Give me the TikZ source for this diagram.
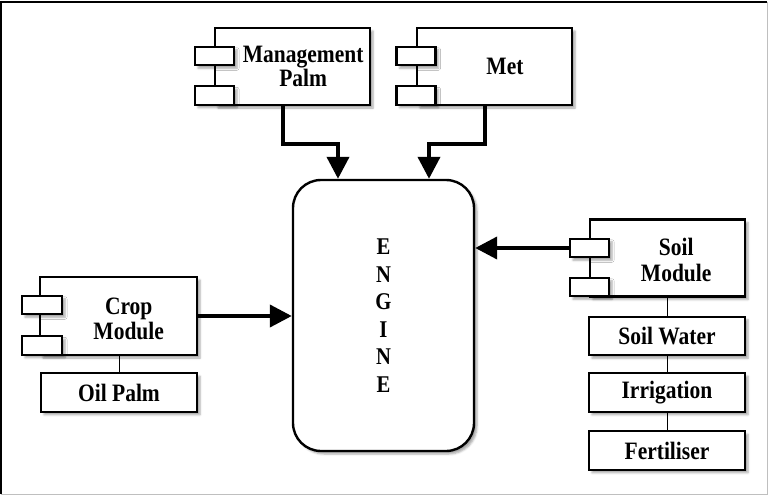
\documentclass[tikz,border=0pt]{standalone}
\usepackage{fontspec}
\setmainfont{Liberation Serif}[FakeStretch=0.86]
\usetikzlibrary{arrows.meta,calc,shadows.blur}

\begin{document}
\begin{tikzpicture}[x=1pt,y=-1pt,
  shade/.style={blur shadow={shadow xshift=3pt, shadow yshift=-3pt,
      shadow opacity=35, shadow blur radius=2pt}},
  box/.style={draw=black, line width=2.4pt, fill=white, inner sep=0pt, shade},
  comp/.style={box, minimum width=155pt, minimum height=77pt},
  port/.style={box, minimum width=39pt, minimum height=18.5pt},
  part/.style={box, minimum width=156pt, minimum height=38.5pt,
      font=\fontsize{25}{21}\selectfont\bfseries},
  lbl/.style={font=\fontsize{25}{#1}\selectfont\bfseries, align=center, inner sep=0pt},
  lbl/.default=21,
  flow/.style={line width=4pt, -{Triangle[width=22pt,length=22pt]}},
  tie/.style={line width=1pt}
]
\useasboundingbox (0,0) rectangle (768,495);

% page frame
\draw[line width=1.6pt] (1,494) -- (1,2) -- (767,2);
\draw[line width=1pt, black!25] (767,2) -- (767,494) -- (1,494);

% central engine
\node[box, rounded corners=28pt, minimum width=181pt, minimum height=271pt,
  font=\fontsize{24}{27.5}\selectfont\bfseries, align=center]
  (engine) at (383.5,315.5) {E\\N\\G\\I\\N\\E};

% Management Palm component
\node[comp] (mgmt) at (292.5,66.5) {};
\node[port] (mgmtP1) at (214.5,56) {};
\node[port] (mgmtP2) at (214.5,95.5) {};
\node[lbl=21] (mgmtT) at ($(mgmtP1.east |- mgmt.center)!0.5!(mgmt.east)$) {Management\\Palm};

% Met component
\node[comp] (met) at (494.5,66.5) {};
\node[port] (metP1) at (416,56) {};
\node[port] (metP2) at (416,95.5) {};
\node[lbl] (metT) at ($(metP1.east |- met.center)!0.5!(met.east)$) {Met};

% Crop Module component and its part
\node[comp, minimum width=157pt, minimum height=78pt] (crop) at (118.5,316) {};
\node[port, minimum width=40pt] (cropP1) at (42,305) {};
\node[port, minimum width=40pt] (cropP2) at (42,345.5) {};
\node[lbl=25] (cropT) at ($(cropP1.east |- crop.center)!0.5!(crop.east) + (-2,2.5)$) {Crop\\Module};
\node[part] (oil) at (119,392.5) {Oil Palm};
\draw[tie] (crop.south -| oil.north) -- (oil.north);

% Soil Module component and its parts
\node[comp] (soil) at (667.5,258) {};
\node[port] (soilP1) at (589.5,248) {};
\node[port] (soilP2) at (589.5,287) {};
\node[lbl=26] (soilT) at ($(soilP1.east |- soil.center)!0.5!(soil.east) + (-2,2)$) {Soil\\Module};
\node[part] (sw) at (667,336) {Soil Water};
\node[part] (irr) at (667,392.5) {Irrigation};
\node[part] (fert) at (667,450.5) {Fertiliser};
\draw[tie] (soil.south -| sw.north) -- (sw.north);
\draw[tie] (sw.south) -- (irr.north);
\draw[tie] (irr.south) -- (fert.north);

% data flows into the engine
\draw[flow] ([xshift=-9.5pt]mgmt.south) -- ++(0,38) -| ([xshift=-45.5pt]engine.north);
\draw[flow] ([xshift=-9.5pt]met.south) -- ++(0,38) -| ([xshift=45.5pt]engine.north);
\draw[flow] (crop.east) -- (engine.west |- crop.east);
\draw[flow] (soilP1.west) -- (engine.east |- soilP1.west);
\end{tikzpicture}
\end{document}
